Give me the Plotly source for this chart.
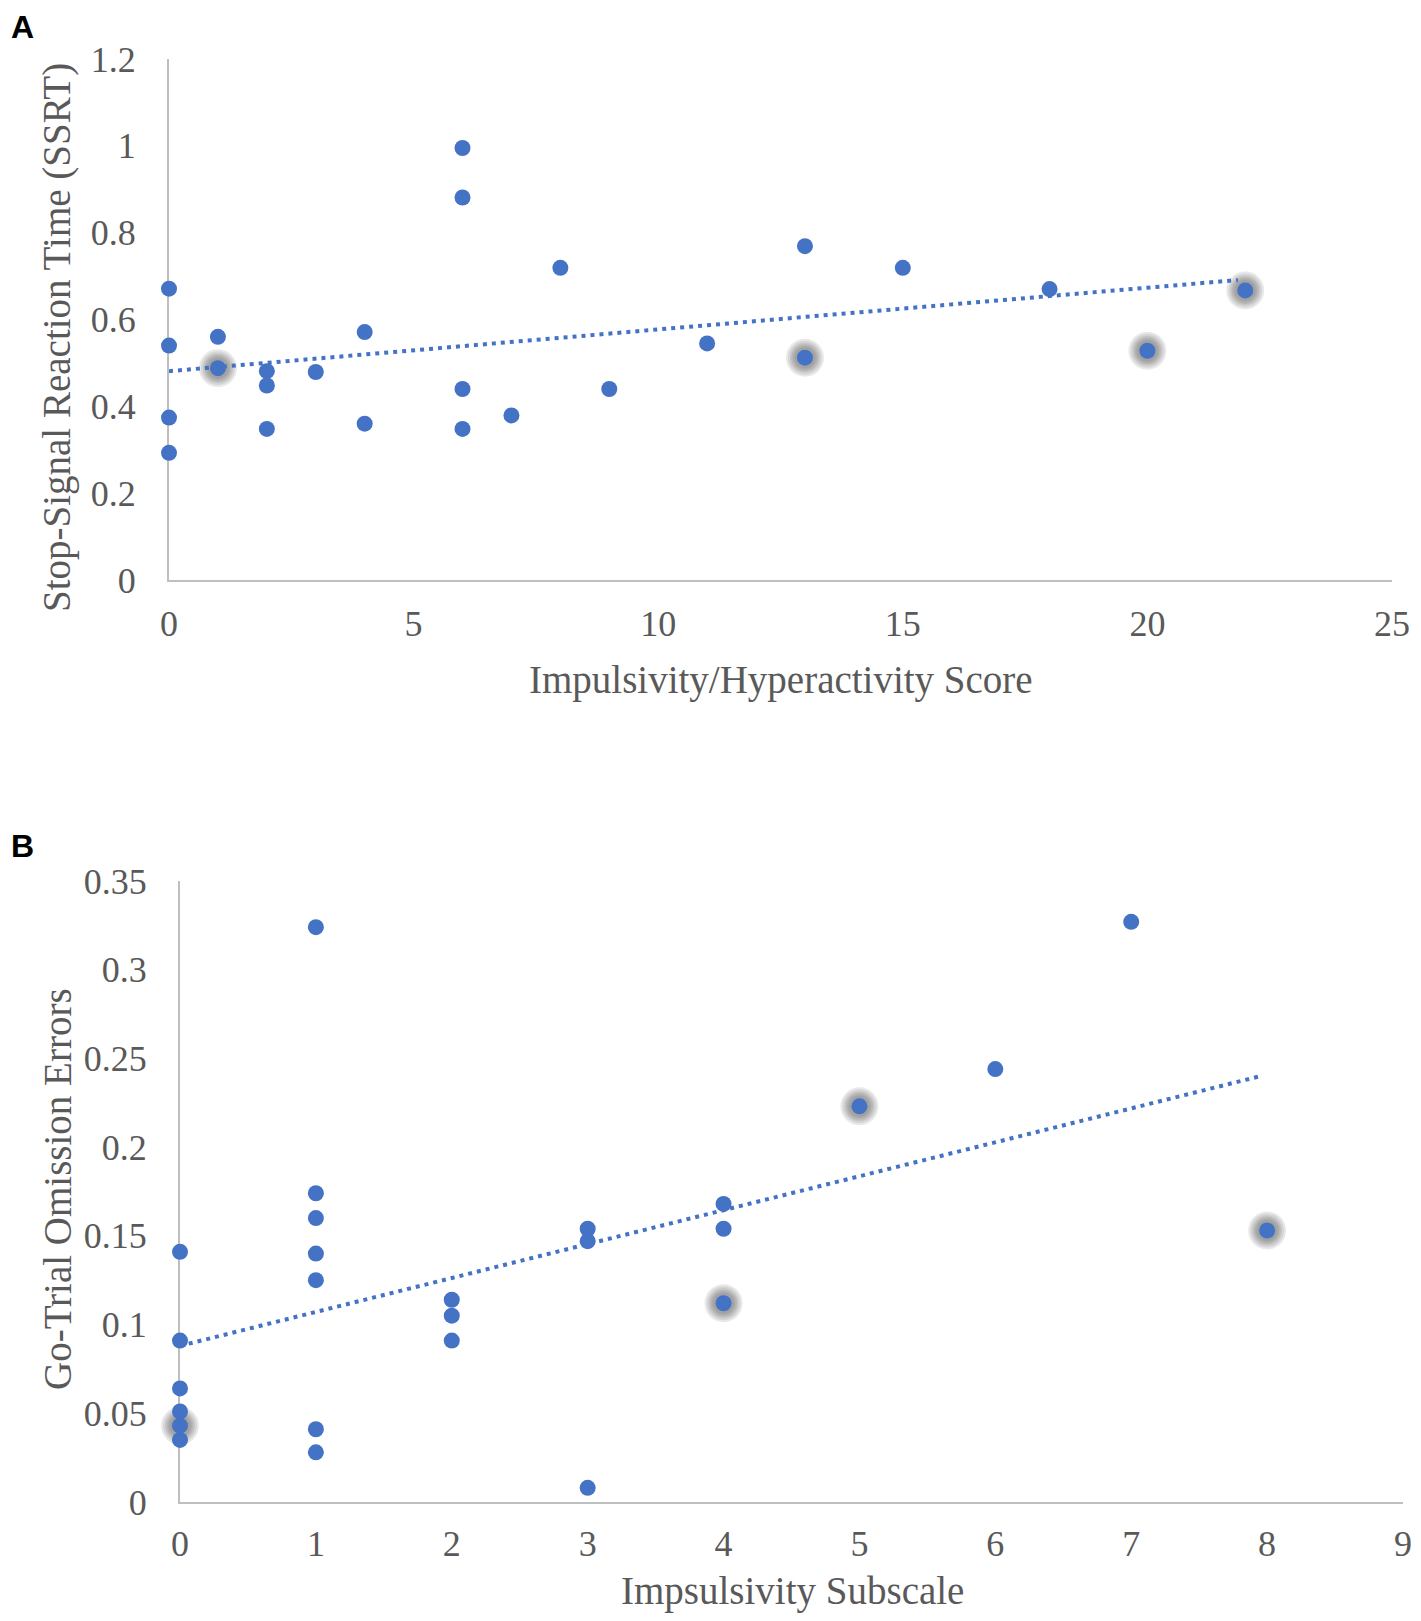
import plotly.graph_objects as go

# panel A: Impulsivity/Hyperactivity score vs SSRT
a_x = [0, 0, 0, 0, 1, 2, 2, 2, 3, 4, 4, 6, 6, 6, 6, 7, 8, 9, 11, 13, 15, 18]
a_y = [0.671, 0.540, 0.374, 0.293, 0.560, 0.481, 0.448, 0.348, 0.479, 0.571, 0.360,
       0.995, 0.881, 0.440, 0.348, 0.379, 0.719, 0.440, 0.545, 0.769, 0.719, 0.670]
a_hl_x = [1, 13, 20, 22]
a_hl_y = [0.488, 0.512, 0.528, 0.667]
a_trend_x = [0, 21.85]
a_trend_y = [0.481, 0.691]

# panel B: Impulsivity subscale vs go-trial omission errors
b_x = [0, 0, 0, 0, 0, 1, 1, 1, 1, 1, 1, 1, 2, 2, 2, 3, 3, 3, 4, 4, 6, 7]
b_y = [0.141, 0.091, 0.064, 0.051, 0.035, 0.324, 0.174, 0.160, 0.140, 0.125, 0.041, 0.028,
       0.114, 0.105, 0.091, 0.154, 0.147, 0.008, 0.168, 0.154, 0.244, 0.327]
b_hl_x = [0, 4, 5, 8]
b_hl_y = [0.043, 0.112, 0.223, 0.153]
b_trend_x = [0, 7.95]
b_trend_y = [0.088, 0.240]

# page body has an 8px margin, so the figure is a bit smaller than the window
OFF = 8
W, H = 1421 - 2 * OFF, 1621 - 2 * OFF
BLUE = '#4472C4'
TXT = '#595959'
SERIF = 'Liberation Serif, Times New Roman, serif'


def px_x(p):
    return (p - OFF) / W


def px_y(p):
    return 1 - (p - OFF) / H


fig = go.Figure()


def add_panel(fig, xs, ys, hx, hy, tx, ty, xa, ya):
    # soft grey halo behind highlighted points, built from stacked faint discs
    for s in [38, 34, 30, 27, 24, 21]:
        fig.add_trace(go.Scatter(x=hx, y=hy, mode='markers', xaxis=xa, yaxis=ya,
                                 marker=dict(size=s, color='rgba(110,110,110,0.15)'),
                                 cliponaxis=False, hoverinfo='skip', showlegend=False))
    fig.add_trace(go.Scatter(x=tx, y=ty, mode='lines', xaxis=xa, yaxis=ya,
                             line=dict(color=BLUE, width=4, dash='4px,5px'),
                             cliponaxis=False, showlegend=False))
    fig.add_trace(go.Scatter(x=xs + hx, y=ys + hy, mode='markers', xaxis=xa, yaxis=ya,
                             marker=dict(size=16, color=BLUE),
                             cliponaxis=False, showlegend=False))


add_panel(fig, a_x, a_y, a_hl_x, a_hl_y, a_trend_x, a_trend_y, 'x', 'y')
add_panel(fig, b_x, b_y, b_hl_x, b_hl_y, b_trend_x, b_trend_y, 'x2', 'y2')

axis_common = dict(showgrid=False, zeroline=False, showline=True, linecolor='#BFBFBF',
                   linewidth=2, ticks='', tickfont=dict(family=SERIF, size=36, color=TXT),
                   automargin=False, fixedrange=True, layer='below traces')

fig.update_layout(
    width=W, height=H,
    margin=dict(l=0, r=0, t=0, b=0),
    plot_bgcolor='white', paper_bgcolor='white',
    xaxis=dict(axis_common, domain=[px_x(169), px_x(1392)], range=[0, 25],
               tickvals=[0, 5, 10, 15, 20, 25], anchor='y', ticklabelstandoff=11),
    yaxis=dict(axis_common, domain=[px_y(580), px_y(59)], range=[0, 1.2],
               tickvals=[0, 0.2, 0.4, 0.6, 0.8, 1, 1.2], anchor='x', ticklabelstandoff=24),
    xaxis2=dict(axis_common, domain=[px_x(180), px_x(1403)], range=[0, 9],
                tickvals=list(range(10)), anchor='y2', ticklabelstandoff=9),
    yaxis2=dict(axis_common, domain=[px_y(1502), px_y(881)], range=[0, 0.35],
                tickvals=[0, 0.05, 0.1, 0.15, 0.2, 0.25, 0.3, 0.35], anchor='x2',
                ticklabelstandoff=24),
)

title_font = dict(family=SERIF, size=39, color=TXT)
label_font = dict(family='Liberation Sans, Arial, sans-serif', size=32, color='black')


def note(text, x, y, font, angle=0):
    fig.add_annotation(text=text, x=px_x(x), y=px_y(y), xref='paper', yref='paper',
                       xanchor='center', yanchor='middle', showarrow=False,
                       font=font, textangle=angle)


note('Impulsivity/Hyperactivity Score', 781, 680, title_font)
note('Stop-Signal Reaction Time (SSRT)', 57, 338, title_font, -90)
note('Impsulsivity Subscale', 792, 1591, title_font)
note('Go-Trial Omission Errors', 57, 1189, title_font, -90)
note('<b>A</b>', 22, 27, label_font)
note('<b>B</b>', 22, 846, label_font)

fig.write_html("out.html")
